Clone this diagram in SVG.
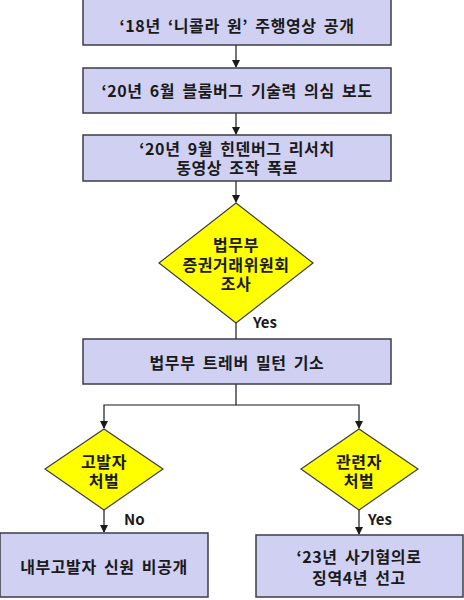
<svg xmlns="http://www.w3.org/2000/svg" width="464" height="600" viewBox="0 0 464 600">
<style>
.box{fill:#D0D0F2;stroke:#3C3C48;stroke-width:1.5}
.dia{fill:#FFFF00;stroke:#3C3C48;stroke-width:1.2}
.t{font-family:"Malgun Gothic","Noto Sans CJK KR",sans-serif;font-weight:bold;font-size:16px;letter-spacing:0.6px;word-spacing:3px;fill:#1A1A1A;text-anchor:middle;dominant-baseline:central}
.l{font-family:"Malgun Gothic","Noto Sans CJK KR",sans-serif;font-weight:bold;font-size:15px;fill:#1A1A1A}
.c{fill:none;stroke:#1A1A1A;stroke-width:1.2}
</style>
<defs>
<marker id="ah" markerWidth="8" markerHeight="8" refX="7" refY="4" orient="auto" markerUnits="userSpaceOnUse">
<path d="M0,0 L8,4 L0,8 Z" fill="#1A1A1A"/>
</marker>
</defs>
<g id="connectors">
<line class="c" x1="236" y1="45" x2="236" y2="67" marker-end="url(#ah)"/>
<line class="c" x1="236" y1="113" x2="236" y2="134" marker-end="url(#ah)"/>
<line class="c" x1="236" y1="181" x2="236" y2="202" marker-end="url(#ah)"/>
<line class="c" x1="236" y1="323" x2="236" y2="339"/>
<polyline class="c" points="236,384 236,405 104,405 104,428" marker-end="url(#ah)"/>
<polyline class="c" points="236,405 359,405 359,428" marker-end="url(#ah)"/>
<line class="c" x1="104" y1="510" x2="104" y2="532" marker-end="url(#ah)"/>
<line class="c" x1="359" y1="510" x2="359" y2="534" marker-end="url(#ah)"/>
<text class="l" x="253" y="328">Yes</text>
<text class="l" x="124" y="525">No</text>
<text class="l" x="368" y="525">Yes</text>
</g>
<g id="n1"><rect class="box" x="83" y="-1" width="308" height="46"/><text class="t" x="237" y="25">‘18년 ‘니콜라 원’ 주행영상 공개</text></g>
<g id="n2"><rect class="box" x="83" y="68" width="308" height="45"/><text class="t" x="237" y="90">‘20년 6월 블룸버그 기술력 의심 보도</text></g>
<g id="n3"><rect class="box" x="83" y="135" width="308" height="46"/><text class="t" x="237" y="148">‘20년 9월 힌덴버그 리서치</text><text class="t" x="237" y="167">동영상 조작 폭로</text></g>
<g id="n4"><polygon class="dia" points="236,203 313,263 236,323 159,263"/><text class="t" x="236" y="244">법무부</text><text class="t" x="236" y="264">증권거래위원회</text><text class="t" x="236" y="283">조사</text></g>
<g id="n5"><rect class="box" x="83" y="339" width="308" height="45"/><text class="t" x="237" y="362">법무부 트레버 밀턴 기소</text></g>
<g id="n6"><polygon class="dia" points="104,429 163,469 104,510 45,469"/><text class="t" x="104" y="461">고발자</text><text class="t" x="104" y="480">처벌</text></g>
<g id="n7"><polygon class="dia" points="359,429 418,469 359,510 301,469"/><text class="t" x="359" y="461">관련자</text><text class="t" x="359" y="480">처벌</text></g>
<g id="n8"><rect class="box" x="0" y="533" width="208" height="64"/><text class="t" x="104" y="566">내부고발자 신원 비공개</text></g>
<g id="n9"><rect class="box" x="256" y="535" width="207" height="62"/><text class="t" x="359" y="556">‘23년 사기혐의로</text><text class="t" x="359" y="577">징역4년 선고</text></g>
</svg>
